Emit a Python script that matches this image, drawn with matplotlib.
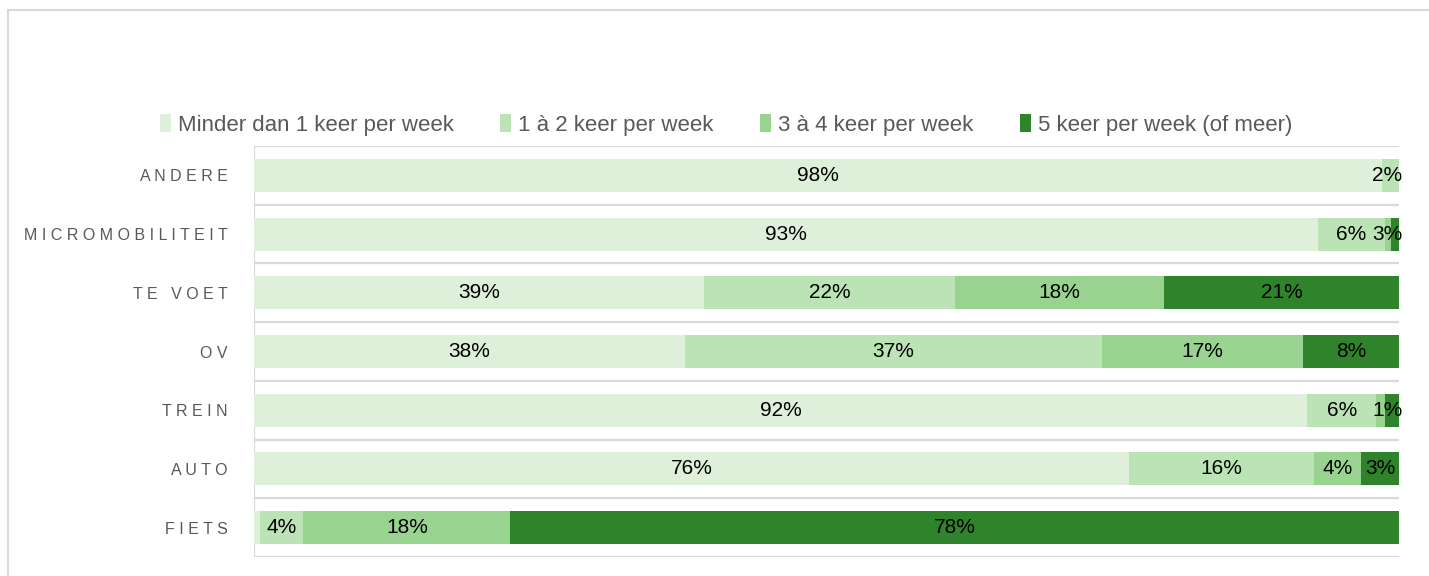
import matplotlib
matplotlib.use("Agg")
import matplotlib.pyplot as plt
from matplotlib.patches import Rectangle

# categories top -> bottom, values in % of respondents
categories = ["ANDERE", "MICROMOBILITEIT", "TE VOET", "OV", "TREIN", "AUTO", "FIETS"]
series = ["Minder dan 1 keer per week", "1 à 2 keer per week",
          "3 à 4 keer per week", "5 keer per week (of meer)"]
minder = [98.5, 92.9, 39.3, 37.6, 92.0, 76.4, 0.5]
een_twee = [1.5, 5.9, 21.9, 36.5, 6.0, 16.2, 3.8]
drie_vier = [0.0, 0.5, 18.3, 17.5, 0.8, 4.1, 18.1]
vijf_plus = [0.0, 3.0, 20.5, 8.5, 1.2, 3.3, 77.6]
# data labels as printed (tiny segments carry no label)
lbl_minder = ["98%", "93%", "39%", "38%", "92%", "76%", ""]
lbl_een_twee = ["2%", "6%", "22%", "37%", "6%", "16%", "4%"]
lbl_drie_vier = ["", "", "18%", "17%", "", "4%", "18%"]
lbl_vijf_plus = ["", "3%", "21%", "8%", "1%", "3%", "78%"]

colors = ["#DEF0DA", "#BCE3B6", "#98D390", "#2F832B"]
grid_c = "#D9D9D9"

plt.rcParams["font.family"] = ["Liberation Sans", "DejaVu Sans"]

fig = plt.figure(figsize=(14.29, 5.76), dpi=100)
ax = fig.add_axes([254 / 1429, 1 - 557 / 576, (1399 - 254) / 1429, (557 - 146) / 576])

# outer chart border (only top/left visible in the crop)
fig.patches.append(Rectangle((8 / 1429, -0.05), 1.2, 1 - 10 / 576 + 0.05, transform=fig.transFigure,
                             fill=False, ec=grid_c, lw=1.5, zorder=0))

ys = list(range(len(categories)))
left = [0.0] * len(categories)
for vals, labels, col, name in zip([minder, een_twee, drie_vier, vijf_plus],
                                   [lbl_minder, lbl_een_twee, lbl_drie_vier, lbl_vijf_plus],
                                   colors, series):
    ax.barh(ys, vals, left=left, height=0.56, color=col, label=name, zorder=2)
    for y, l, v, t in zip(ys, left, vals, labels):
        if t:
            vis = min(v, 100 - l)
            x = min(l + vis / 2, 99.0)  # keep label inside the plot area
            ax.text(x, y, t, ha="center", va="center", fontsize=15, color="black", zorder=3)
    left = [a + b for a, b in zip(left, vals)]

ax.set_xlim(0, 100)
ax.set_ylim(len(categories) - 0.5, -0.5)
for b in [i - 0.5 for i in range(len(categories) + 1)]:
    ax.axhline(b, color=grid_c, lw=1.6, zorder=1)
ax.axvline(0, color=grid_c, lw=1.6, zorder=1)
for s in ax.spines.values():
    s.set_visible(False)
ax.set_xticks([])
ax.set_yticks(ys)
ax.set_yticklabels([" ".join(c) for c in categories], color="#595959", fontsize=11.5)
ax.tick_params(axis="y", length=0, pad=19)

fig.legend(loc="center", bbox_to_anchor=(726 / 1429, 1 - 125 / 576), ncol=4, frameon=False,
           fontsize=16, handlelength=0.5, handleheight=0.85, handletextpad=0.3,
           columnspacing=2.1, labelcolor="#595959")

fig.savefig("out.png", dpi=100)
